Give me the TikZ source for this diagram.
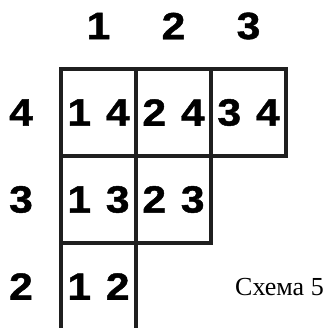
\documentclass[tikz,border=0pt]{standalone}
\usepackage{fontspec}
\setmainfont{Liberation Serif}
\newfontfamily\digitfont{Liberation Sans}[BoldFeatures={FakeBold=1.2,FakeStretch=1.12,WordSpace=1.25}]
\usetikzlibrary{calc,positioning}
\tikzset{
  cell/.style={draw=black!88, line width=4pt, minimum width=75pt, minimum height=87pt,
    inner sep=0pt, outer sep=0pt, font=\digitfont\bfseries\fontsize{38}{38}\selectfont},
  lbl/.style={inner sep=0pt, font=\digitfont\bfseries\fontsize{38}{38}\selectfont}
}
\begin{document}
\begin{tikzpicture}[x=1pt,y=-1pt]
        \useasboundingbox (0,0) rectangle (326,328);
        \def\w{75}
        \def\h{87}
        \coordinate (o) at (61,69);
        %Cells
        \node[cell] (c14) at ($(o)+(0.5*\w,0.5*\h)$) {1 4};
        \node[cell] (c24) at ($(c14)+(\w,0)$) {2 4};
        \node[cell] (c34) at ($(c24)+(\w,0)$) {3 4};
        \node[cell] (c13) at ($(c14)+(0,\h)$) {1 3};
        \node[cell] (c23) at ($(c13)+(\w,0)$) {2 3};
        \node[cell] (c12) at ($(c13)+(0,\h)$) {1 2};
        %Column labels
        \node[lbl] (k1) at (c14 |- 0,26) {1};
        \node[lbl] (k2) at (c24 |- 0,26) {2};
        \node[lbl] (k3) at (c34 |- 0,26) {3};
        %Row labels
        \node[lbl] (r4) at (21,0 |- c14) {4};
        \node[lbl] (r3) at (21,0 |- c13) {3};
        \node[lbl] (r2) at (21,0 |- c12) {2};
        %Caption
        \node[anchor=base west, inner sep=0pt, font=\fontsize{26}{26}\selectfont] (cap) at (235,295) {Схема 5};
      \end{tikzpicture}
\end{document}
